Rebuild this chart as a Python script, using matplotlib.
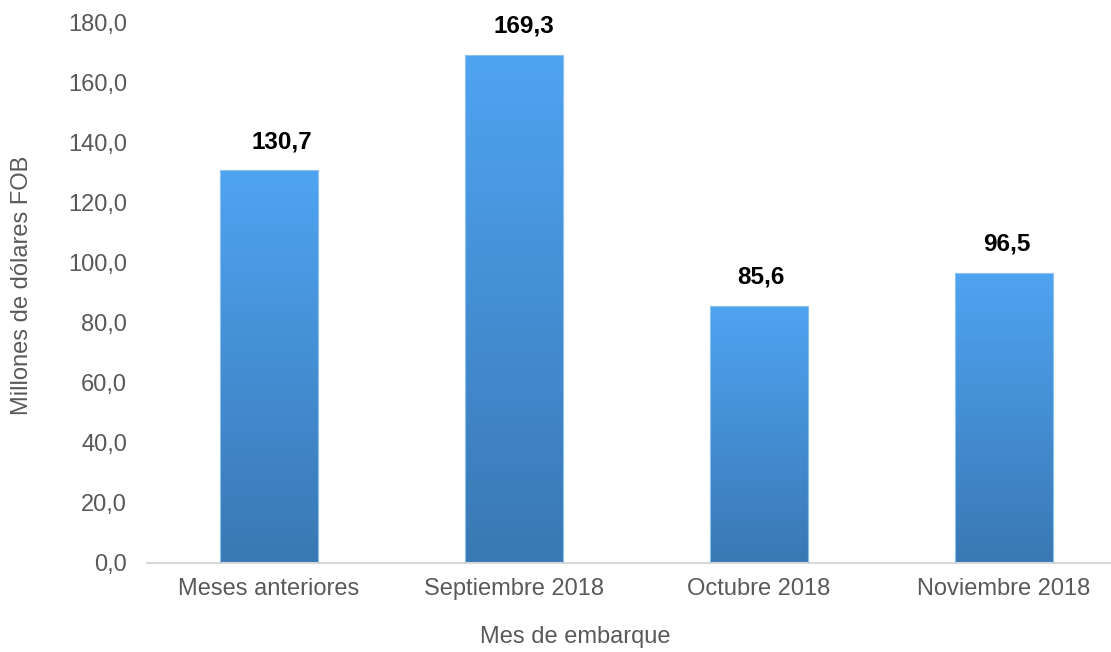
import matplotlib.pyplot as plt
import numpy as np
from matplotlib.colors import LinearSegmentedColormap

# datos
categorias = ["Meses anteriores", "Septiembre 2018", "Octubre 2018", "Noviembre 2018"]
valores = [130.7, 169.3, 85.6, 96.5]
etiquetas = ["130,7", "169,3", "85,6", "96,5"]
yticks = [0, 20, 40, 60, 80, 100, 120, 140, 160, 180]

# desplazamiento horizontal de las etiquetas (puntos), como en el original
desplaz = [9.4, 7.2, 1.4, 2.2]

plt.rcParams['font.family'] = ['Liberation Sans', 'DejaVu Sans']

fig = plt.figure(figsize=(11.11, 6.52), dpi=100)
ax = fig.add_axes([146.5 / 1111, 89.5 / 652, 1 - 146.5 / 1111, 540 / 652])

cmap = LinearSegmentedColormap.from_list("grad", ["#3a78b4", "#4fa4f2"])
grad = np.linspace(0, 1, 256).reshape(-1, 1)
ancho = 0.4
x = np.arange(len(categorias))
bars = ax.bar(x, valores, width=ancho, color="none", edgecolor="#8cc0ee", linewidth=0.8, zorder=3)
for b in bars:
    x0, y0 = b.get_x(), b.get_y()
    im = ax.imshow(grad, extent=[x0, x0 + b.get_width(), y0, y0 + b.get_height()],
                   origin="lower", aspect="auto", cmap=cmap, zorder=2)
    im.set_clip_path(b)

for xi, v, t, dx in zip(x, valores, etiquetas, desplaz):
    ax.annotate(t, (xi, v), xytext=(dx, 16), textcoords="offset points",
                ha="center", va="baseline", fontsize=17.5, fontweight="bold", color="black")

ax.set_xlim(-0.5, (1111 - 146.5) / 245 - 0.5)
ax.set_ylim(0, 180)
ax.set_yticks(yticks)
ax.set_yticklabels([f"{v:.1f}".replace(".", ",") for v in yticks], fontsize=17, color="#595959")
ax.set_xticks(x)
ax.set_xticklabels(categorias, fontsize=17, color="#595959")
ax.tick_params(axis="both", length=0)
ax.tick_params(axis="x", pad=11)
ax.tick_params(axis="y", pad=14)
for s in ["top", "right", "left"]:
    ax.spines[s].set_visible(False)
ax.spines["bottom"].set_color("#d9d9d9")
ax.spines["bottom"].set_linewidth(1.5)

fig.text(575 / 1111, 1 - 637 / 652, "Mes de embarque", ha="center", va="center",
         fontsize=17, color="#595959")
fig.text(22 / 1111, 1 - 285 / 652, "Millones de dólares FOB", ha="center", va="center",
         rotation=90, fontsize=17, color="#595959")

fig.savefig("out.png", dpi=100)
